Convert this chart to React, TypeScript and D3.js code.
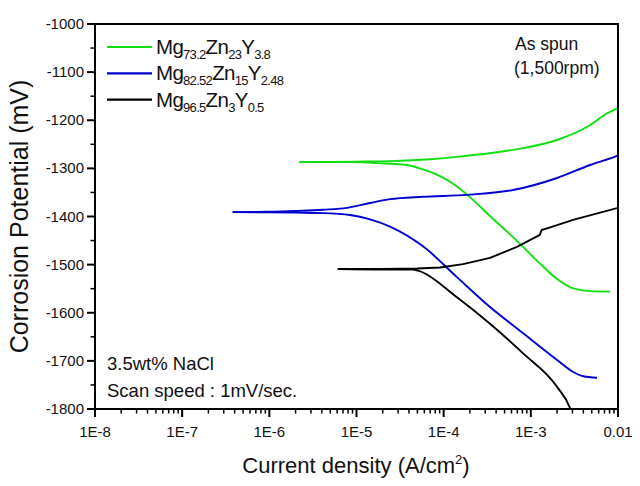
import React from "react";
import * as d3 from "d3";

// ---- Data (current density A/cm², potential mV) ----
const greenCathodic: [number, number][] = [
  [2.2e-6, -1287], [1.0e-5, -1287], [1.74e-5, -1289], [3.8e-5, -1293], [5.75e-5, -1302],
  [9.1e-5, -1316], [1.41e-4, -1337], [2.19e-4, -1366], [3.39e-4, -1399], [5.37e-4, -1432],
  [8.13e-4, -1463], [1.26e-3, -1497], [2.0e-3, -1530], [3.02e-3, -1549], [4.79e-3, -1555],
  [8.13e-3, -1556],
];
const greenAnodic: [number, number][] = [
  [2.2e-6, -1287], [1.0e-5, -1286], [2.4e-5, -1285], [7.0e-5, -1281], [1.42e-4, -1276],
  [3.5e-4, -1268], [8.1e-4, -1258], [2.0e-3, -1241], [4.8e-3, -1210], [7.0e-3, -1189],
  [1.0e-2, -1175],
];
const blueCathodic: [number, number][] = [
  [3.8e-7, -1391], [2.0e-6, -1392], [4.1e-6, -1393], [8.4e-6, -1397], [1.43e-5, -1406],
  [2.42e-5, -1421], [5.8e-5, -1462], [1.42e-4, -1526], [3.4e-4, -1588], [8.1e-4, -1642],
  [2.0e-3, -1698], [3.0e-3, -1722], [4.0e-3, -1732], [5.74e-3, -1735],
];
const blueAnodic: [number, number][] = [
  [3.8e-7, -1391], [1.0e-6, -1390], [4.13e-6, -1386], [7.78e-6, -1382], [1.43e-5, -1372],
  [2.42e-5, -1364], [5.79e-5, -1359], [1.85e-4, -1355], [6.24e-4, -1345], [2.0e-3, -1320],
  [4.78e-3, -1293], [9.7e-3, -1274], [1.0e-2, -1273],
];
const blackCathodic: [number, number][] = [
  [6.1e-6, -1509], [2.0e-5, -1510], [4.4e-5, -1510], [5.2e-5, -1513], [1.42e-4, -1568],
  [3.4e-4, -1623], [8.1e-4, -1684], [2.0e-3, -1754], [2.81e-3, -1798], [3.2e-3, -1830],
];
const blackAnodic: [number, number][] = [
  [6.1e-6, -1509], [2.0e-5, -1509], [4.94e-5, -1508], [9.1e-5, -1506], [1.67e-4, -1499],
  [3.4e-4, -1486], [6.93e-4, -1463], [1.27e-3, -1438], [1.33e-3, -1428], [1.57e-3, -1424],
  [3.05e-3, -1407], [1.0e-2, -1382],
];

const xTickValues = [1e-8, 1e-7, 1e-6, 1e-5, 1e-4, 1e-3, 1e-2];
const xTickLabels = ["1E-8", "1E-7", "1E-6", "1E-5", "1E-4", "1E-3", "0.01"];
const yTickValues = [-1000, -1100, -1200, -1300, -1400, -1500, -1600, -1700, -1800];

const seriesColors = ["#10e010", "#0000d0", "#000000"];
const legendLabels: { main: string; sub: string }[][] = [
  [{ main: "Mg", sub: "73.2" }, { main: "Zn", sub: "23" }, { main: "Y", sub: "3.8" }],
  [{ main: "Mg", sub: "82.52" }, { main: "Zn", sub: "15" }, { main: "Y", sub: "2.48" }],
  [{ main: "Mg", sub: "96.5" }, { main: "Zn", sub: "3" }, { main: "Y", sub: "0.5" }],
];

const FONT = "'Liberation Sans', Arial, Helvetica, sans-serif";

export default function App() {
  const W = 640, H = 486;
  const left = 95, right = 618, top = 24, bottom = 409;
  const x = d3.scaleLog().domain([1e-8, 1e-2]).range([left, right]);
  const y = d3.scaleLinear().domain([-1800, -1000]).range([bottom, top]);
  const smooth = d3
    .line<[number, number]>()
    .x((d) => x(d[0]))
    .y((d) => y(d[1]))
    .curve(d3.curveMonotoneX);
  const straight = d3
    .line<[number, number]>()
    .x((d) => x(d[0]))
    .y((d) => y(d[1]));

  const series = [
    [greenCathodic, greenAnodic],
    [blueCathodic, blueAnodic],
    [blackCathodic, blackAnodic],
  ];

  const minorX: number[] = [];
  for (let k = -8; k < -2; k++) for (let m = 2; m <= 9; m++) minorX.push(m * Math.pow(10, k));
  const minorY: number[] = [];
  for (let v = -1750; v <= -1050; v += 100) minorY.push(v);

  return (
    <svg width={W} height={H} style={{ position: "absolute", left: 0, top: 0, background: "#fff" }} fontFamily={FONT}>
      <defs>
        <clipPath id="plotClip">
          <rect x={left} y={top} width={right - left} height={bottom - top} />
        </clipPath>
      </defs>
      <rect x={0} y={0} width={W} height={H} fill="#fff" />
      {/* curves */}
      <g clipPath="url(#plotClip)">
        {series.map((branches, i) =>
          branches.map((b, j) => (
            <path
              key={i + "-" + j}
              d={(i === 2 && j === 1 ? straight(b) : smooth(b)) || ""}
              fill="none"
              stroke={seriesColors[i]}
              strokeWidth={1.9}
              strokeLinejoin="round"
            />
          ))
        )}
      </g>
      {/* frame */}
      <rect x={left} y={top} width={right - left} height={bottom - top} fill="none" stroke="#000" strokeWidth={2} />
      {/* x ticks */}
      {xTickValues.map((v, i) => (
        <g key={"xt" + i}>
          <line x1={x(v)} x2={x(v)} y1={bottom} y2={bottom + 8} stroke="#000" strokeWidth={2} />
          <text x={x(v)} y={437} textAnchor="middle" fontSize={15} fill="#111">{xTickLabels[i]}</text>
        </g>
      ))}
      {minorX.map((v, i) => (
        <line key={"xm" + i} x1={x(v)} x2={x(v)} y1={bottom} y2={bottom + 4.5} stroke="#000" strokeWidth={1.5} />
      ))}
      {/* y ticks */}
      {yTickValues.map((v, i) => (
        <g key={"yt" + i}>
          <line x1={left - 8} x2={left} y1={y(v)} y2={y(v)} stroke="#000" strokeWidth={2} />
          <text x={84} y={y(v) + 5} textAnchor="end" fontSize={15} fill="#111">{v}</text>
        </g>
      ))}
      {minorY.map((v, i) => (
        <line key={"ym" + i} x1={left - 4.5} x2={left} y1={y(v)} y2={y(v)} stroke="#000" strokeWidth={1.5} />
      ))}
      {/* axis titles */}
      <text x={356} y={473} textAnchor="middle" fontSize={22} fill="#111">
        Current density (A/cm<tspan dy={-9} fontSize={13}>2</tspan><tspan dy={9}>)</tspan>
      </text>
      <text transform={`translate(28,${(top + bottom) / 2}) rotate(-90)`} textAnchor="middle" fontSize={25} fill="#111">
        Corrosion Potential (mV)
      </text>
      {/* legend */}
      {legendLabels.map((parts, i) => {
        const ly = 47 + i * 26.3;
        return (
          <g key={"lg" + i}>
            <line x1={107} x2={152} y1={ly} y2={ly} stroke={seriesColors[i]} strokeWidth={2.2} />
            <text x={156} y={ly + 7} fontSize={20.5} fill="#111" letterSpacing={-0.7}>
              {parts.map((p, j) => (
                <React.Fragment key={j}>
                  <tspan dy={j === 0 ? 0 : -5}>{p.main}</tspan>
                  <tspan dy={5} fontSize={13}>{p.sub}</tspan>
                </React.Fragment>
              ))}
            </text>
          </g>
        );
      })}
      {/* annotations */}
      <text x={515} y={50} fontSize={17.5} fill="#111">As spun</text>
      <text x={514} y={74} fontSize={17.5} fill="#111">(1,500rpm)</text>
      <text x={107} y={370} fontSize={18.5} fill="#111">3.5wt% NaCl</text>
      <text x={107} y={397} fontSize={18.5} fill="#111">Scan speed : 1mV/sec.</text>
    </svg>
  );
}
